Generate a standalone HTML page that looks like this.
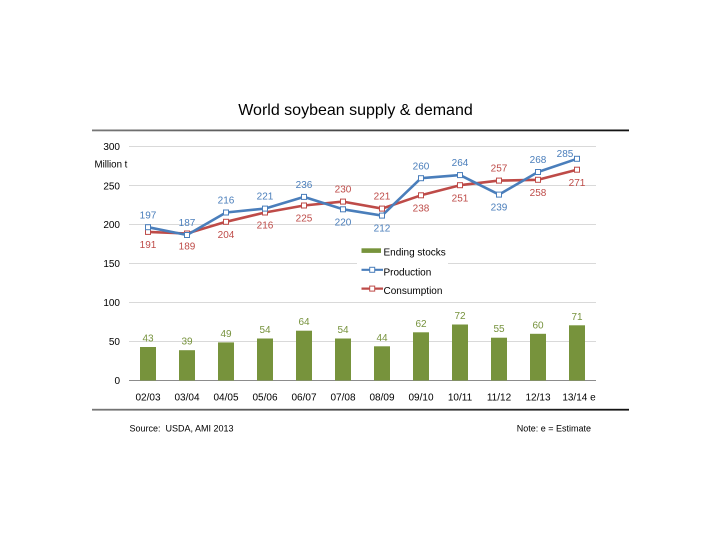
<!DOCTYPE html>
<html><head><meta charset="utf-8"><style>
html,body{margin:0;padding:0;background:#fff;}
svg{display:block;}
text{font-family:"Liberation Sans",Arial,sans-serif;}
</style></head><body>
<svg width="720" height="540" viewBox="0 0 720 540" xmlns="http://www.w3.org/2000/svg">
<defs>
<linearGradient id="rule" x1="0" x2="1" y1="0" y2="0">
<stop offset="0" stop-color="#777"/><stop offset="1" stop-color="#111"/>
</linearGradient>
</defs>
<rect width="720" height="540" fill="#fff"/>
<text x="355.5" y="115" font-size="16" text-anchor="middle" fill="#000">World soybean supply &amp; demand</text>
<rect x="92" y="129.5" width="537" height="1.8" fill="url(#rule)"/>
<rect x="92" y="408.8" width="537" height="1.8" fill="url(#rule)"/>

<!-- gridlines -->
<g stroke="#d9d9d9" stroke-width="1">
<line x1="129" x2="596" y1="146.5" y2="146.5"/>
<line x1="129" x2="596" y1="185.5" y2="185.5"/>
<line x1="129" x2="596" y1="224.5" y2="224.5"/>
<line x1="129" x2="596" y1="263.5" y2="263.5"/>
<line x1="129" x2="596" y1="302.5" y2="302.5"/>
<line x1="129" x2="596" y1="341.5" y2="341.5"/>
</g>
<line x1="129" x2="596" y1="380.5" y2="380.5" stroke="#8c8c8c" stroke-width="1"/>

<!-- y labels -->
<g font-size="10" fill="#000" text-anchor="end">
<text x="120" y="150">300</text>
<text x="120" y="189.5">250</text>
<text x="120" y="228">200</text>
<text x="120" y="267">150</text>
<text x="120" y="306">100</text>
<text x="120" y="345">50</text>
<text x="120" y="384">0</text>
</g>
<text x="94.5" y="167.5" font-size="9.7" fill="#000">Million t</text>

<!-- bars -->
<g fill="#77933c">
<rect x="140" y="347.0" width="16" height="33.5"/>
<rect x="179" y="350.2" width="16" height="30.3"/>
<rect x="218" y="342.4" width="16" height="38.1"/>
<rect x="257" y="338.5" width="16" height="42.0"/>
<rect x="296" y="330.7" width="16" height="49.8"/>
<rect x="335" y="338.5" width="16" height="42.0"/>
<rect x="374" y="346.3" width="16" height="34.2"/>
<rect x="413" y="332.3" width="16" height="48.2"/>
<rect x="452" y="324.5" width="16" height="56.0"/>
<rect x="491" y="337.7" width="16" height="42.8"/>
<rect x="530" y="333.8" width="16" height="46.7"/>
<rect x="569" y="325.3" width="16" height="55.2"/>
</g>
<g font-size="10" fill="#76923c" text-anchor="middle">
<text x="148" y="341.5">43</text>
<text x="187" y="344.7">39</text>
<text x="226" y="336.9">49</text>
<text x="265" y="333">54</text>
<text x="304" y="325.2">64</text>
<text x="343" y="333">54</text>
<text x="382" y="340.8">44</text>
<text x="421" y="326.8">62</text>
<text x="460" y="319">72</text>
<text x="499" y="332.2">55</text>
<text x="538" y="328.3">60</text>
<text x="577" y="319.8">71</text>
</g>

<!-- legend box -->
<rect x="357" y="242" width="91" height="57" fill="#fff"/>
<rect x="361.5" y="248.3" width="19.5" height="4.6" fill="#77933c"/>
<line x1="361.5" x2="383" y1="269.8" y2="269.8" stroke="#4a7ebb" stroke-width="2.2"/>
<rect x="369.7" y="267.3" width="5" height="5" fill="#fff" stroke="#4a7ebb" stroke-width="1"/>
<line x1="361.5" x2="383" y1="288.6" y2="288.6" stroke="#be4b48" stroke-width="2.2"/>
<rect x="369.7" y="286.1" width="5" height="5" fill="#fff" stroke="#be4b48" stroke-width="1"/>
<g font-size="10" fill="#000">
<text x="383.5" y="255.3">Ending stocks</text>
<text x="383.5" y="275.3">Production</text>
<text x="383.5" y="294">Consumption</text>
</g>

<!-- consumption line -->
<polyline fill="none" stroke="#be4b48" stroke-width="2.6" stroke-linejoin="round"
points="148,231.9 187,233.5 226,221.8 265,212.5 304,205.5 343,201.6 382,208.6 421,195.3 460,185.2 499,180.6 538,179.8 577,169.7"/>
<!-- production line -->
<polyline fill="none" stroke="#4a7ebb" stroke-width="2.6" stroke-linejoin="round"
points="148,227.2 187,235.0 226,212.5 265,208.6 304,196.9 343,209.3 382,215.6 421,178.2 460,175.1 499,194.6 538,172.0 577,158.8"/>
<g fill="#fff" stroke="#be4b48" stroke-width="1">
<rect x="145.5" y="229.4" width="5" height="5"/>
<rect x="184.5" y="231.0" width="5" height="5"/>
<rect x="223.5" y="219.3" width="5" height="5"/>
<rect x="262.5" y="210.0" width="5" height="5"/>
<rect x="301.5" y="203.0" width="5" height="5"/>
<rect x="340.5" y="199.1" width="5" height="5"/>
<rect x="379.5" y="206.1" width="5" height="5"/>
<rect x="418.5" y="192.8" width="5" height="5"/>
<rect x="457.5" y="182.7" width="5" height="5"/>
<rect x="496.5" y="178.1" width="5" height="5"/>
<rect x="535.5" y="177.3" width="5" height="5"/>
<rect x="574.5" y="167.2" width="5" height="5"/>
</g>
<g fill="#fff" stroke="#4a7ebb" stroke-width="1">
<rect x="145.5" y="224.7" width="5" height="5"/>
<rect x="184.5" y="232.5" width="5" height="5"/>
<rect x="223.5" y="210.0" width="5" height="5"/>
<rect x="262.5" y="206.1" width="5" height="5"/>
<rect x="301.5" y="194.4" width="5" height="5"/>
<rect x="340.5" y="206.8" width="5" height="5"/>
<rect x="379.5" y="213.1" width="5" height="5"/>
<rect x="418.5" y="175.7" width="5" height="5"/>
<rect x="457.5" y="172.6" width="5" height="5"/>
<rect x="496.5" y="192.1" width="5" height="5"/>
<rect x="535.5" y="169.5" width="5" height="5"/>
<rect x="574.5" y="156.3" width="5" height="5"/>
</g>

<!-- production labels -->
<g font-size="10" fill="#4a7ebb" text-anchor="middle">
<text x="148" y="218.3">197</text>
<text x="187" y="226.1">187</text>
<text x="226" y="203.6">216</text>
<text x="265" y="199.7">221</text>
<text x="304" y="188">236</text>
<text x="343" y="225.4">220</text>
<text x="382" y="231.7">212</text>
<text x="421" y="169.3">260</text>
<text x="460" y="166.2">264</text>
<text x="499" y="210.7">239</text>
<text x="538" y="163.1">268</text>
<text x="565" y="156.9">285</text>
</g>
<!-- consumption labels -->
<g font-size="10" fill="#be4b48" text-anchor="middle">
<text x="148" y="248">191</text>
<text x="187" y="249.6">189</text>
<text x="226" y="237.9">204</text>
<text x="265" y="228.6">216</text>
<text x="304" y="221.6">225</text>
<text x="343" y="192.7">230</text>
<text x="382" y="199.7">221</text>
<text x="421" y="211.4">238</text>
<text x="460" y="201.3">251</text>
<text x="499" y="171.7">257</text>
<text x="538" y="195.9">258</text>
<text x="577" y="185.8">271</text>
</g>

<!-- x labels -->
<g font-size="10" fill="#000" text-anchor="middle">
<text x="148" y="400.3">02/03</text>
<text x="187" y="400.3">03/04</text>
<text x="226" y="400.3">04/05</text>
<text x="265" y="400.3">05/06</text>
<text x="304" y="400.3">06/07</text>
<text x="343" y="400.3">07/08</text>
<text x="382" y="400.3">08/09</text>
<text x="421" y="400.3">09/10</text>
<text x="460" y="400.3">10/11</text>
<text x="499" y="400.3">11/12</text>
<text x="538" y="400.3">12/13</text>
<text x="579" y="400.3">13/14 e</text>
</g>

<text x="129.5" y="431.3" font-size="9" fill="#000" xml:space="preserve">Source:  USDA, AMI 2013</text>
<text x="591" y="431.3" font-size="9" fill="#000" text-anchor="end">Note: e = Estimate</text>
</svg>
</body></html>
